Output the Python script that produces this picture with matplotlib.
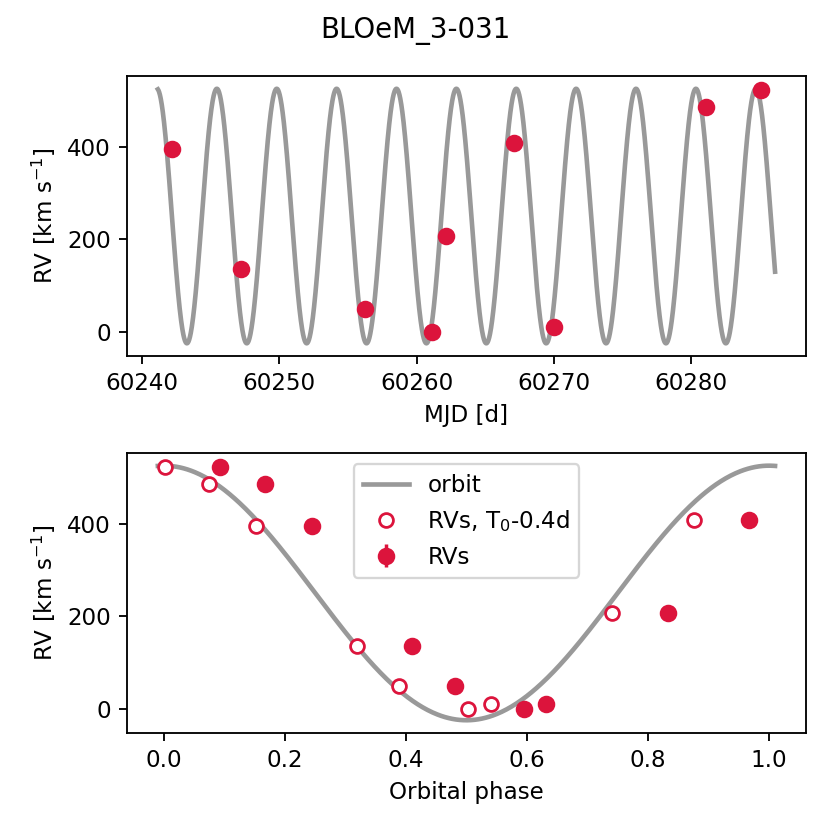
import numpy as np
import matplotlib
matplotlib.use('Agg')
import matplotlib.pyplot as plt

# measured radial velocities
mjd = [60242.15, 60247.24, 60256.27, 60261.13, 60262.17, 60267.12, 60270.02, 60281.08, 60285.12]
rv = [395, 136, 49, 0, 208, 409, 10, 487, 523]
rv_err = [3, 3, 3, 3, 3, 3, 3, 3, 3]

# orbital solution (circular)
period = 4.363
t0 = 60284.715
gamma = 250.5
k_amp = 275.5
t0_shift = 0.4

star = "BLOeM_3-031"
color = 'crimson'
orbit_color = '#999999'

mjd = np.array(mjd)
rv = np.array(rv)

phase = ((mjd - t0) / period) % 1
phase_shift = ((mjd - t0 - t0_shift) / period) % 1

t_grid = np.linspace(mjd.min() - 1, mjd.max() + 1, 3000)
rv_model_t = gamma + k_amp * np.cos(2 * np.pi * (t_grid - t0) / period)
ph_grid = np.linspace(-0.01, 1.01, 500)
rv_model_ph = gamma + k_amp * np.cos(2 * np.pi * ph_grid)

dpi = 166
fig, (ax1, ax2) = plt.subplots(2, 1, figsize=(830 / dpi, 830 / dpi), dpi=dpi)
fig.subplots_adjust(left=0.153, right=0.971, top=0.9084, bottom=0.1169, hspace=0.346)
fig.suptitle(star)

ax1.plot(t_grid, rv_model_t, color=orbit_color, lw=2, zorder=1)
ax1.plot(mjd, rv, 'o', color=color, ms=6.6, mew=1, zorder=2)
ax1.set_xlabel("MJD [d]")
ax1.set_ylabel("RV [km s$^{-1}$]")

ax2.plot(ph_grid, rv_model_ph, color=orbit_color, lw=2, zorder=1, label='orbit')
ax2.plot(phase_shift, rv, 'o', ms=6, mfc='white', mec=color, mew=1.2, zorder=3,
         label='RVs, T$_0$-0.4d')
ax2.errorbar(phase, rv, yerr=rv_err, fmt='o', color=color, ms=6.6, zorder=2, label='RVs')
ax2.set_xlabel("Orbital phase")
ax2.set_ylabel("RV [km s$^{-1}$]")
ax2.legend(loc='upper center')

fig.savefig('out.png', dpi=dpi)
